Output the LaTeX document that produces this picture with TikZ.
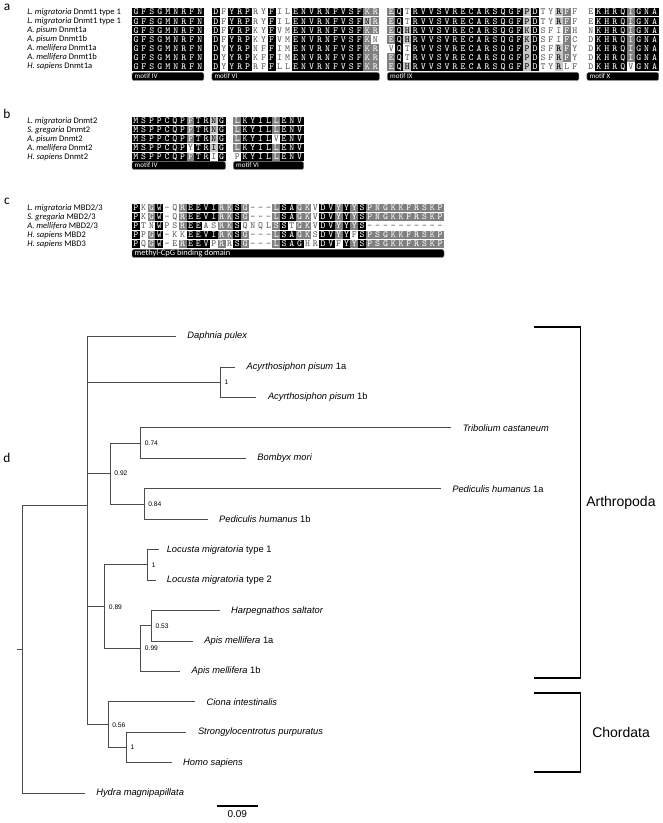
\documentclass[tikz,border=0pt]{standalone}
\usepackage{fontspec}
\setmainfont{Liberation Sans}
\newfontfamily\calib{Carlito}
\usepackage{tikz}
\usetikzlibrary{positioning}

\definecolor{alnDark}{gray}{0.5}
\definecolor{alnLight}{gray}{0.78}
\definecolor{alnText}{gray}{0.35}
\definecolor{branchgray}{gray}{0.3}

\tikzset{
  res/.style={inner sep=0pt, minimum width={\alnw*0.75pt}, minimum height=6.4pt,
    text height=4.6pt, text depth=0.2pt, font=\ttfamily\fontsize{7}{7}\selectfont},
  cellk/.style={fill=black, text=white},
  celld/.style={fill=alnDark, text=white},
  celll/.style={fill=alnLight, text=black},
  cellw/.style={text=alnText},
  seqname/.style={anchor=west, inner sep=0pt, font=\calib\fontsize{6.4}{7}\selectfont},
  motifbox/.style={fill=black, draw=black!55, line width=0.3pt, rounded corners=1.5pt,
    minimum height=6pt, inner sep=0pt},
  motiftext/.style={anchor=west, text=white, inner xsep=2pt, inner ysep=0pt,
    font=\calib\fontsize{5.3}{5.3}\selectfont},
  panel/.style={inner sep=0pt, font=\calib\fontsize{10}{10}\selectfont},
  branch/.style={draw=branchgray, line width=0.7pt},
  taxon/.style={inner sep=1pt, font=\fontsize{7}{8}\selectfont},
  support/.style={inner sep=1pt, font=\fontsize{5}{5}\selectfont},
  bracket/.style={draw=black, line width=1.4pt},
  clade/.style={anchor=west, inner sep=0pt, font=\fontsize{10.5}{11}\selectfont}
}

% alignment rows: residues and shades are read one character at a time
\newcount\alncol
\def\alnx{132}\def\alnw{7.98}
\def\alncell#1#2{\if x#2\else
  \node[res,cell#2] (\alnid-\the\alncol) at ({\alnx+(\the\alncol+0.5)*\alnw},\alny) {#1};\fi}
\def\alnstep#1#2\alnstop#3#4\alnstop{%
  \ifx\relax#1\let\alnnext\relax\else
    \alncell{#1}{#3}\advance\alncol by 1
    \def\alnnext{\alnstep#2\alnstop#4\alnstop}%
  \fi\alnnext}
\newcommand\alnrow[4]{\def\alnid{#1}\def\alny{#2}\alncol=0
  \alnstep#3\relax\alnstop#4\relax\alnstop}
% black motif bar with its label
\newcommand\motifbar[5]{%
  \node[motifbox, minimum width={(#3-#2)*0.75pt}] (#1) at ({(#2+#3)/2},#4) {};
  \node[motiftext] (#1t) at (#1.west) {#5};}

\begin{document}
\begin{tikzpicture}[x=0.75pt,y=-0.75pt]
\useasboundingbox (0,0) rectangle (662,823);

% ---- a
\node[panel] (pa) at (7,7) {a};
\node[seqname] (na1) at (27,12) {\textit{L. migratoria} Dnmt1 type 1};
\node[seqname] (na2) at (27,21.1) {\textit{L. migratoria} Dnmt1 type 1};
\node[seqname] (na3) at (27,30.2) {\textit{A. pisum} Dnmt1a};
\node[seqname] (na4) at (27,39.3) {\textit{A. pisum} Dnmt1b};
\node[seqname] (na5) at (27,48.4) {\textit{A. mellifera} Dnmt1a};
\node[seqname] (na6) at (27,57.5) {\textit{A. mellifera} Dnmt1b};
\node[seqname] (na7) at (27,66.6) {\textit{H. sapiens} Dnmt1a};
\alnrow{a1}{12}{GFSGMNRFN.DFYRPRYFILENVRNFVSFKR.EQTRVVSVRECARSQGFPDTYRFF.EKHRQIGNA}
  {kkkkkkkkk x kwkkkwwkww kkkkkkkkk dd x dkw kkkkkkkkkkkkkk lkwwldw x wkkkkdkkk}
\alnrow{a2}{21.1}{GFSGMNRFN.DFYRPRYFILENVRNFVSFNR.EQTRVVSVRECARSQGFPDTYRFF.EKHRQIGNA}
  {kkkkkkkkk x kwkkkwwkww kkkkkkkkk ld x dkw kkkkkkkkkkkkkk lkwwldw x wkkkkdkkk}
\alnrow{a3}{30.2}{GFSGMNRFN.DFYRPKYFVMENVRNFVSFKR.EQHRVVSVRECARSQGFKDSFIFH.NKHRQIGNA}
  {kkkkkkkkk x kwkkkwwkww kkkkkkkkk dd x dkl kkkkkkkkkkkkkk lkwwwdw x wkkkkdkkk}
\alnrow{a4}{39.3}{GFSGMNRFN.DFYRPKYFVMENVRNFVSFKN.EQHRVVSVRECARSQGFKDSFIFC.DKHRQIGNA}
  {kkkkkkkkk x kwkkkwwkww kkkkkkkkk dw x dkl kkkkkkkkkkkkkk lkwwwdw x wkkkkdkkk}
\alnrow{a5}{48.4}{GFSGMNRFN.DYYRPNFFIMENVRNFVSFKR.VQTRVVSVRECARSQGFPDSFRFY.DKHRQIGNA}
  {kkkkkkkkk x kwkkkwwkww kkkkkkkkk dd x wkw kkkkkkkkkkkkkk lkwwldw x wkkkkdkkk}
\alnrow{a6}{57.5}{GFSGMNRFN.DYYRPKFFIMENVRNFVSFKR.EQTRVVSVRECARSQGFPDSFRFY.DKHRQIGNA}
  {kkkkkkkkk x kwkkkwwkww kkkkkkkkk dd x dkw kkkkkkkkkkkkkk lkwwldw x wkkkkdkkk}
\alnrow{a7}{66.6}{GFSGMNRFN.DYYRPRFFLLENVRNFVSFKR.EQHRVVSVRECARSQGFPDTYRLF.DKHRQVGNA}
  {kkkkkkkkk x kwkkkwwkww kkkkkkkkk dd x dkl kkkkkkkkkkkkkk lkwwlww x wkkkkwkkk}
\motifbar{ma4}{132}{203.8}{76.5}{motif IV}
\motifbar{ma6}{211.8}{379.4}{76.5}{motif VI}
\motifbar{ma9}{387.4}{578.9}{76.5}{motif IX}
\motifbar{ma10}{586.9}{658.7}{76.5}{motif X}

% ---- b
\def\alnw{7.8}
\node[panel] (pb) at (7,114) {b};
\node[seqname] (nb1) at (27,121) {\textit{L. migratoria} Dnmt2};
\node[seqname] (nb2) at (27,130) {\textit{S. gregaria} Dnmt2};
\node[seqname] (nb3) at (27,139) {\textit{A. pisum} Dnmt2};
\node[seqname] (nb4) at (27,148) {\textit{A. mellifera} Dnmt2};
\node[seqname] (nb5) at (27,157) {\textit{H. sapiens} Dnmt2};
\alnrow{b1}{121}{MSPPCQPFTRNG.LKYILLENV}{kkkkkkkdkklk x dkkkkdkkk}
\alnrow{b2}{130}{MSPPCQPFTRNG.LKYILLENV}{kkkkkkkdkklk x dkkkkdkkk}
\alnrow{b3}{139}{MSPPCQPFTRNG.LKYILVENV}{kkkkkkkdkklk x dkkkkwkkk}
\alnrow{b4}{148}{MSPPCQPYTRIG.LKYILLENV}{kkkkkkkwkklk x dkkkkdkkk}
\alnrow{b5}{157}{MSPPCQPFTRIG.PKYILLENV}{kkkkkkkdkkwk x wkkkkdkkk}
\motifbar{mb4}{132}{225.6}{165.5}{motif IV}
\motifbar{mb6}{233.4}{303.6}{165.5}{motif VI}

% ---- c
\node[panel] (pc) at (7,201) {c};
\node[seqname] (nc1) at (27,208) {\textit{L. migratoria} MBD2/3};
\node[seqname] (nc2) at (27,217) {\textit{S. gregaria} MBD2/3};
\node[seqname] (nc3) at (27,226) {\textit{A. mellifera} MBD2/3};
\node[seqname] (nc4) at (27,235) {\textit{H. sapiens} MBD2};
\node[seqname] (nc5) at (27,244) {\textit{H. sapiens} MBD3};
\alnrow{c1}{208}{PKGW-QREEVIRKSG---LSAGKVDVYYYSPNGKKFRSKP}
  {kwdkw wdkkkkddkd www dkkddwkkdkdk dddddddddd}
\alnrow{c2}{217}{PKGW-QREEVIRKSG---LSAGKVDVYYYSPNGKKFRSKP}
  {kwdkw wdkkkkddkd www dkkddwkkdkdk dddddddddd}
\alnrow{c3}{226}{PTNWPSREEASRKSQNQLSSTGKVDVYYYS----------}
  {kwwkw wdkkwwddkwwww dkwddwkkdkdk wwwwwwwwww}
\alnrow{c4}{235}{PPGW-KKEEVIRKSG---LSAGKSDVYYFSPSGKKFRSKP}
  {kwdkw wwkkkkddkd www dkkddwkkdkwk dddddddddd}
\alnrow{c5}{244}{PQGW-EREEVPRRSG---LSAGHRDVFYYSPSGKKFRSKP}
  {kwdkw wdkkkwdwkd www dkkkwwkkwkdk dddddddddd}
\motifbar{mcb}{132}{444}{253.5}{\fontsize{6.3}{6.3}\selectfont methyl-CpG binding domain}

% ---- d: tree
\node[panel] (pd) at (7,458) {d};
\coordinate (rootstub) at (17,649);
\coordinate (root) at (22,649);
\coordinate (nMain) at (87,505);
\coordinate (tHydra) at (84.7,793.3);
\coordinate (tDaph) at (175.8,336.5);
\coordinate (nAcy) at (220.3,382.2);
\coordinate (tAcyA) at (235,367);
\coordinate (tAcyB) at (256.4,397.4);
\coordinate (n092) at (110.2,473.6);
\coordinate (n074) at (140.7,443.1);
\coordinate (tTrib) at (451.3,427.9);
\coordinate (tBomb) at (245.8,458.3);
\coordinate (n084) at (144,504);
\coordinate (tPedA) at (440.7,488.8);
\coordinate (tPedB) at (207.6,519.2);
\coordinate (n089) at (104.7,606.8);
\coordinate (nLoc) at (147.5,564.9);
\coordinate (tLocA) at (158.5,549.7);
\coordinate (tLocB) at (156,580.1);
\coordinate (n099) at (140.7,648.6);
\coordinate (n053) at (151.3,625.8);
\coordinate (tHarp) at (219.5,610.6);
\coordinate (tApisA) at (192.8,641);
\coordinate (tApisB) at (180,671.5);
\coordinate (nChord) at (108,724.8);
\coordinate (tCiona) at (195,701.9);
\coordinate (nSH) at (126.3,747.6);
\coordinate (tStrong) at (186.4,732.4);
\coordinate (tHomo) at (171.6,762.8);

\draw[branch] (rootstub) -- (root);
\foreach \p/\c in {root/nMain, root/tHydra, nMain/tDaph, nMain/nAcy, nMain/n092,
    nMain/n089, nMain/nChord, nAcy/tAcyA, nAcy/tAcyB, n092/n074, n092/n084,
    n074/tTrib, n074/tBomb, n084/tPedA, n084/tPedB, n089/nLoc, n089/n099,
    nLoc/tLocA, nLoc/tLocB, n099/n053, n099/tApisB, n053/tHarp, n053/tApisA,
    nChord/tCiona, nChord/nSH, nSH/tStrong, nSH/tHomo}
  \draw[branch] (\p) |- (\c);

\node[taxon, right=7.5pt of tDaph] (lDaph) {\textit{Daphnia pulex}};
\node[taxon, right=7.5pt of tAcyA] (lAcyA) {\textit{Acyrthosiphon pisum} 1a};
\node[taxon, right=7.5pt of tAcyB] (lAcyB) {\textit{Acyrthosiphon pisum} 1b};
\node[taxon, right=7.5pt of tTrib] (lTrib) {\textit{Tribolium castaneum}};
\node[taxon, right=7.5pt of tBomb] (lBomb) {\textit{Bombyx mori}};
\node[taxon, right=7.5pt of tPedA] (lPedA) {\textit{Pediculis humanus} 1a};
\node[taxon, right=7.5pt of tPedB] (lPedB) {\textit{Pediculis humanus} 1b};
\node[taxon, right=5pt of tLocA] (lLocA) {\textit{Locusta migratoria} type 1};
\node[taxon, right=7pt of tLocB] (lLocB) {\textit{Locusta migratoria} type 2};
\node[taxon, right=7.5pt of tHarp] (lHarp) {\textit{Harpegnathos saltator}};
\node[taxon, right=7.5pt of tApisA] (lApisA) {\textit{Apis mellifera} 1a};
\node[taxon, right=7.5pt of tApisB] (lApisB) {\textit{Apis mellifera} 1b};
\node[taxon, right=7.5pt of tCiona] (lCiona) {\textit{Ciona intestinalis}};
\node[taxon, right=7.5pt of tStrong] (lStrong) {\textit{Strongylocentrotus purpuratus}};
\node[taxon, right=7.5pt of tHomo] (lHomo) {\textit{Homo sapiens}};
\node[taxon, right=7.5pt of tHydra] (lHydra) {\textit{Hydra magnipapillata}};

\node[support, right=2pt of nAcy] (sAcy) {1};
\node[support, right=2pt of n092] (s092) {0.92};
\node[support, right=2pt of n074] (s074) {0.74};
\node[support, right=2pt of n084] (s084) {0.84};
\node[support, right=2pt of n089] (s089) {0.89};
\node[support, right=2pt of nLoc] (sLoc) {1};
\node[support, right=2pt of n099] (s099) {0.99};
\node[support, right=2pt of n053] (s053) {0.53};
\node[support, right=2pt of nChord] (sChord) {0.56};
\node[support, right=2pt of nSH] (sSH) {1};

% scale bar
\coordinate (sbL) at (217,806);
\coordinate (sbR) at (257.6,806);
\coordinate (sbM) at (237.3,806);
\draw[line width=0.8pt] (sbL) -- (sbR);
\node[taxon, below=2pt of sbM, font=\fontsize{7.5}{8}\selectfont] (sbLab) {0.09};

% clade brackets
\coordinate (arTop) at (534,327);
\coordinate (arBot) at (534,678);
\coordinate (chTop) at (534,693);
\coordinate (chBot) at (534,772);
\draw[bracket] (arTop) -- ++(46.5,0) |- (arBot);
\draw[bracket] (chTop) -- ++(46.5,0) |- (chBot);
\node[clade] (cArth) at (586,502.5) {Arthropoda};
\node[clade] (cChord) at (592,732.5) {Chordata};
\end{tikzpicture}
\end{document}
